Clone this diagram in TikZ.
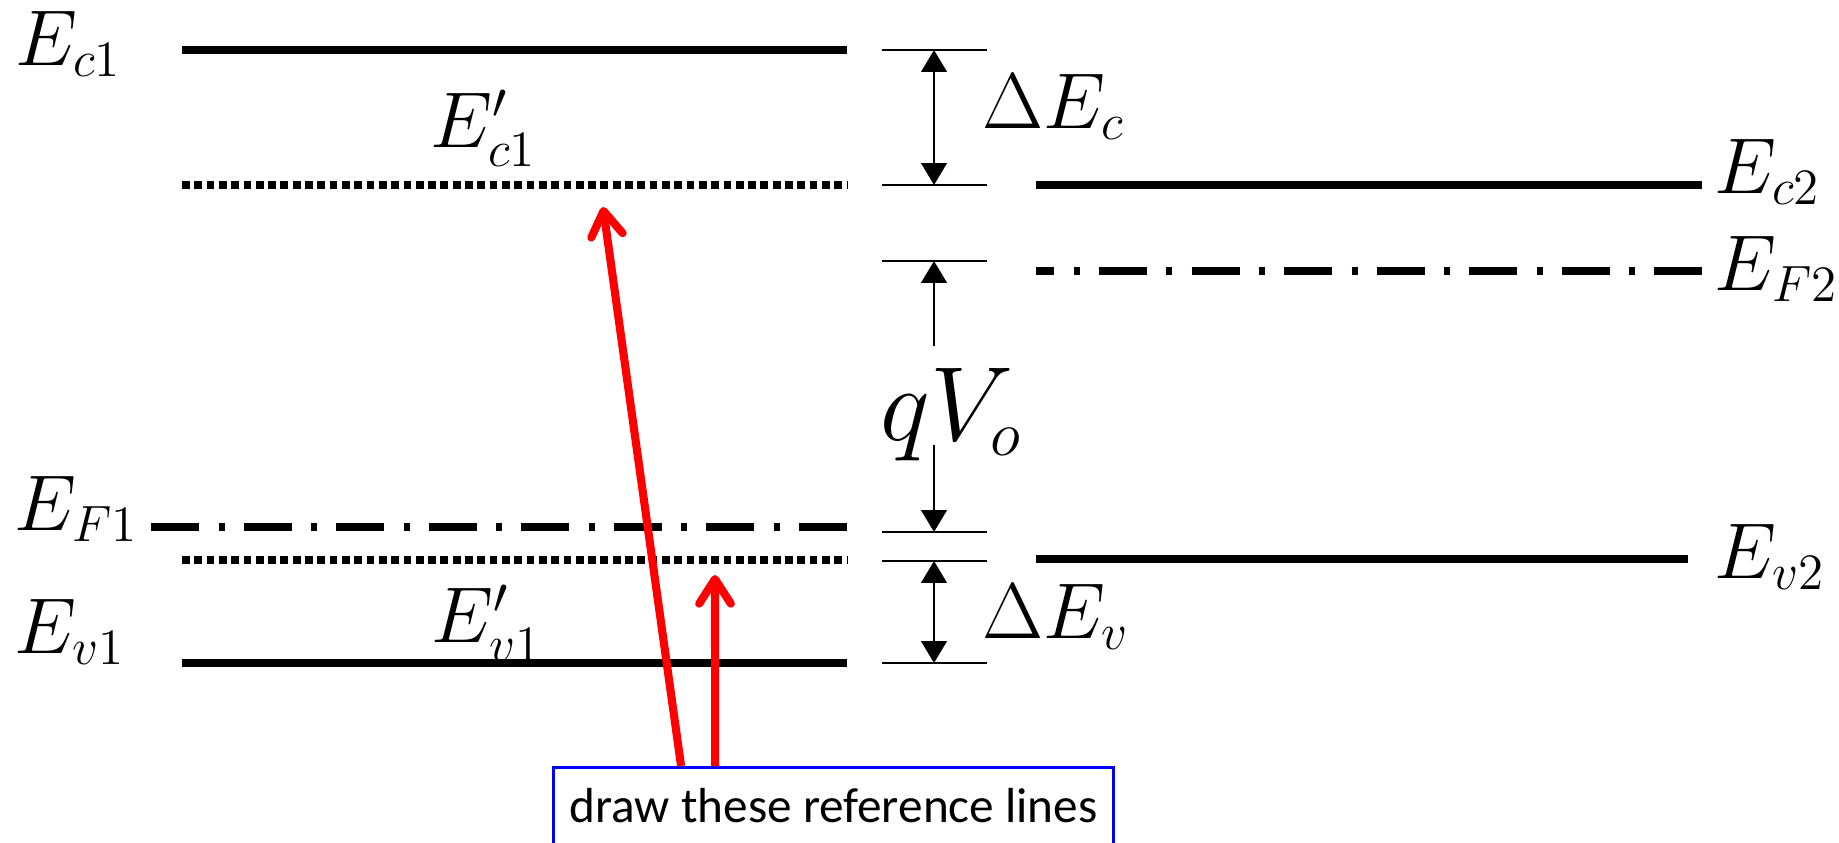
\RequirePackage{fix-cm}
\documentclass[tikz,border=0pt]{standalone}
\usepackage[no-math]{fontspec}
\newfontfamily\notefont{Carlito}
\usepackage{tikz}
\usetikzlibrary{arrows.meta}
\DeclareMathSizes{22.5}{22.5}{14.5}{10}
\DeclareMathSizes{30}{30}{18}{12}

\begin{document}
\begin{tikzpicture}[x=0.01cm, y=-0.01cm,
    bandline/.style={line width=2.2pt},
    refline/.style={line width=2.2pt, dash pattern=on 2.2pt off 1.3pt},
    fermi/.style={line width=2.2pt, dash pattern=on 0.48cm off 0.195cm on 0.06cm off 0.19cm},
    tickmark/.style={line width=0.8pt},
    dimline/.style={line width=0.8pt, >={Triangle[length=6.2pt, width=7.2pt]}},
    levellabel/.style={anchor=base west, inner sep=0pt, font=\fontsize{22.5}{27}\selectfont},
    notebox/.style={draw=blue, line width=0.8pt, anchor=north west, minimum width=5.6cm,
      inner ysep=0.21cm, text height=0.34cm, text depth=0.3cm, font=\fontsize{14}{17}\notefont},
    pointer/.style={draw=red, line width=2.3pt, -{Straight Barb[round, length=7pt, width=9pt]}}]
    \useasboundingbox (0,0) rectangle (1839,842);

    % left material: band edges and the shifted reference lines
    \draw[bandline] (182,50)  -- (847,50);
    \draw[refline]  (182,185) -- (847,185);
    \draw[fermi]    (151,527) -- (848,527);
    \draw[refline]  (182,560) -- (847,560);
    \draw[bandline] (182,663) -- (847,663);

    % right material
    \draw[bandline] (1036,185) -- (1702,185);
    \draw[fermi, dash phase=0.296cm] (1036,271) -- (1702,271);
    \draw[bandline] (1036,559) -- (1688,559);

    % ticks of the offsets
    \foreach \y/\n in {50/t1, 185/t2, 261/t3, 532/t4, 561/t5, 663/t6} {
        \draw[tickmark] (882,\y) -- (987,\y);
        \coordinate (\n) at (934,\y);
    }
    \coordinate (qa) at (934,346);
    \coordinate (qb) at (934,445);

    % offset arrows
    \draw[dimline, <->] (t1) -- (t2);
    \draw[dimline, <->] (t5) -- (t6);
    \draw[dimline, ->] (qa) -- (t3);
    \draw[dimline, ->] (qb) -- (t4);

    % labels
    \node[levellabel] (ec1)  at (15,65)    {$E_{c1}$};
    \node[levellabel] (ec1p) at (430,147)  {$E'_{c1}$};
    \node[levellabel] (ef1)  at (14,530)   {$E_{F1}$};
    \node[levellabel] (ev1)  at (14,653)   {$E_{v1}$};
    \node[levellabel] (ev1p) at (431,642)  {$E'_{v1}$};
    \node[levellabel] (dec)  at (982,128)  {$\Delta E_c$};
    \node[levellabel] (dev)  at (982,638)  {$\Delta E_v$};
    \node[levellabel] (ec2)  at (1714,193) {$E_{c2}$};
    \node[levellabel] (ef2)  at (1714,290) {$E_{F2}$};
    \node[levellabel] (ev2)  at (1714,578) {$E_{v2}$};
    \node[levellabel, font=\fontsize{30}{36}\selectfont] (qv) at (880,440) {$qV_o$};

    % note and its pointers
    \node[notebox] (note) at (552,766) {draw these reference lines};
    \coordinate (hitc) at (603,207);
    \coordinate (hitv) at (715,575);
    \draw[pointer] ([xshift=1.29cm]note.north west) -- (hitc);
    \draw[pointer] ([xshift=1.63cm]note.north west) -- (hitv);
\end{tikzpicture}
\end{document}
